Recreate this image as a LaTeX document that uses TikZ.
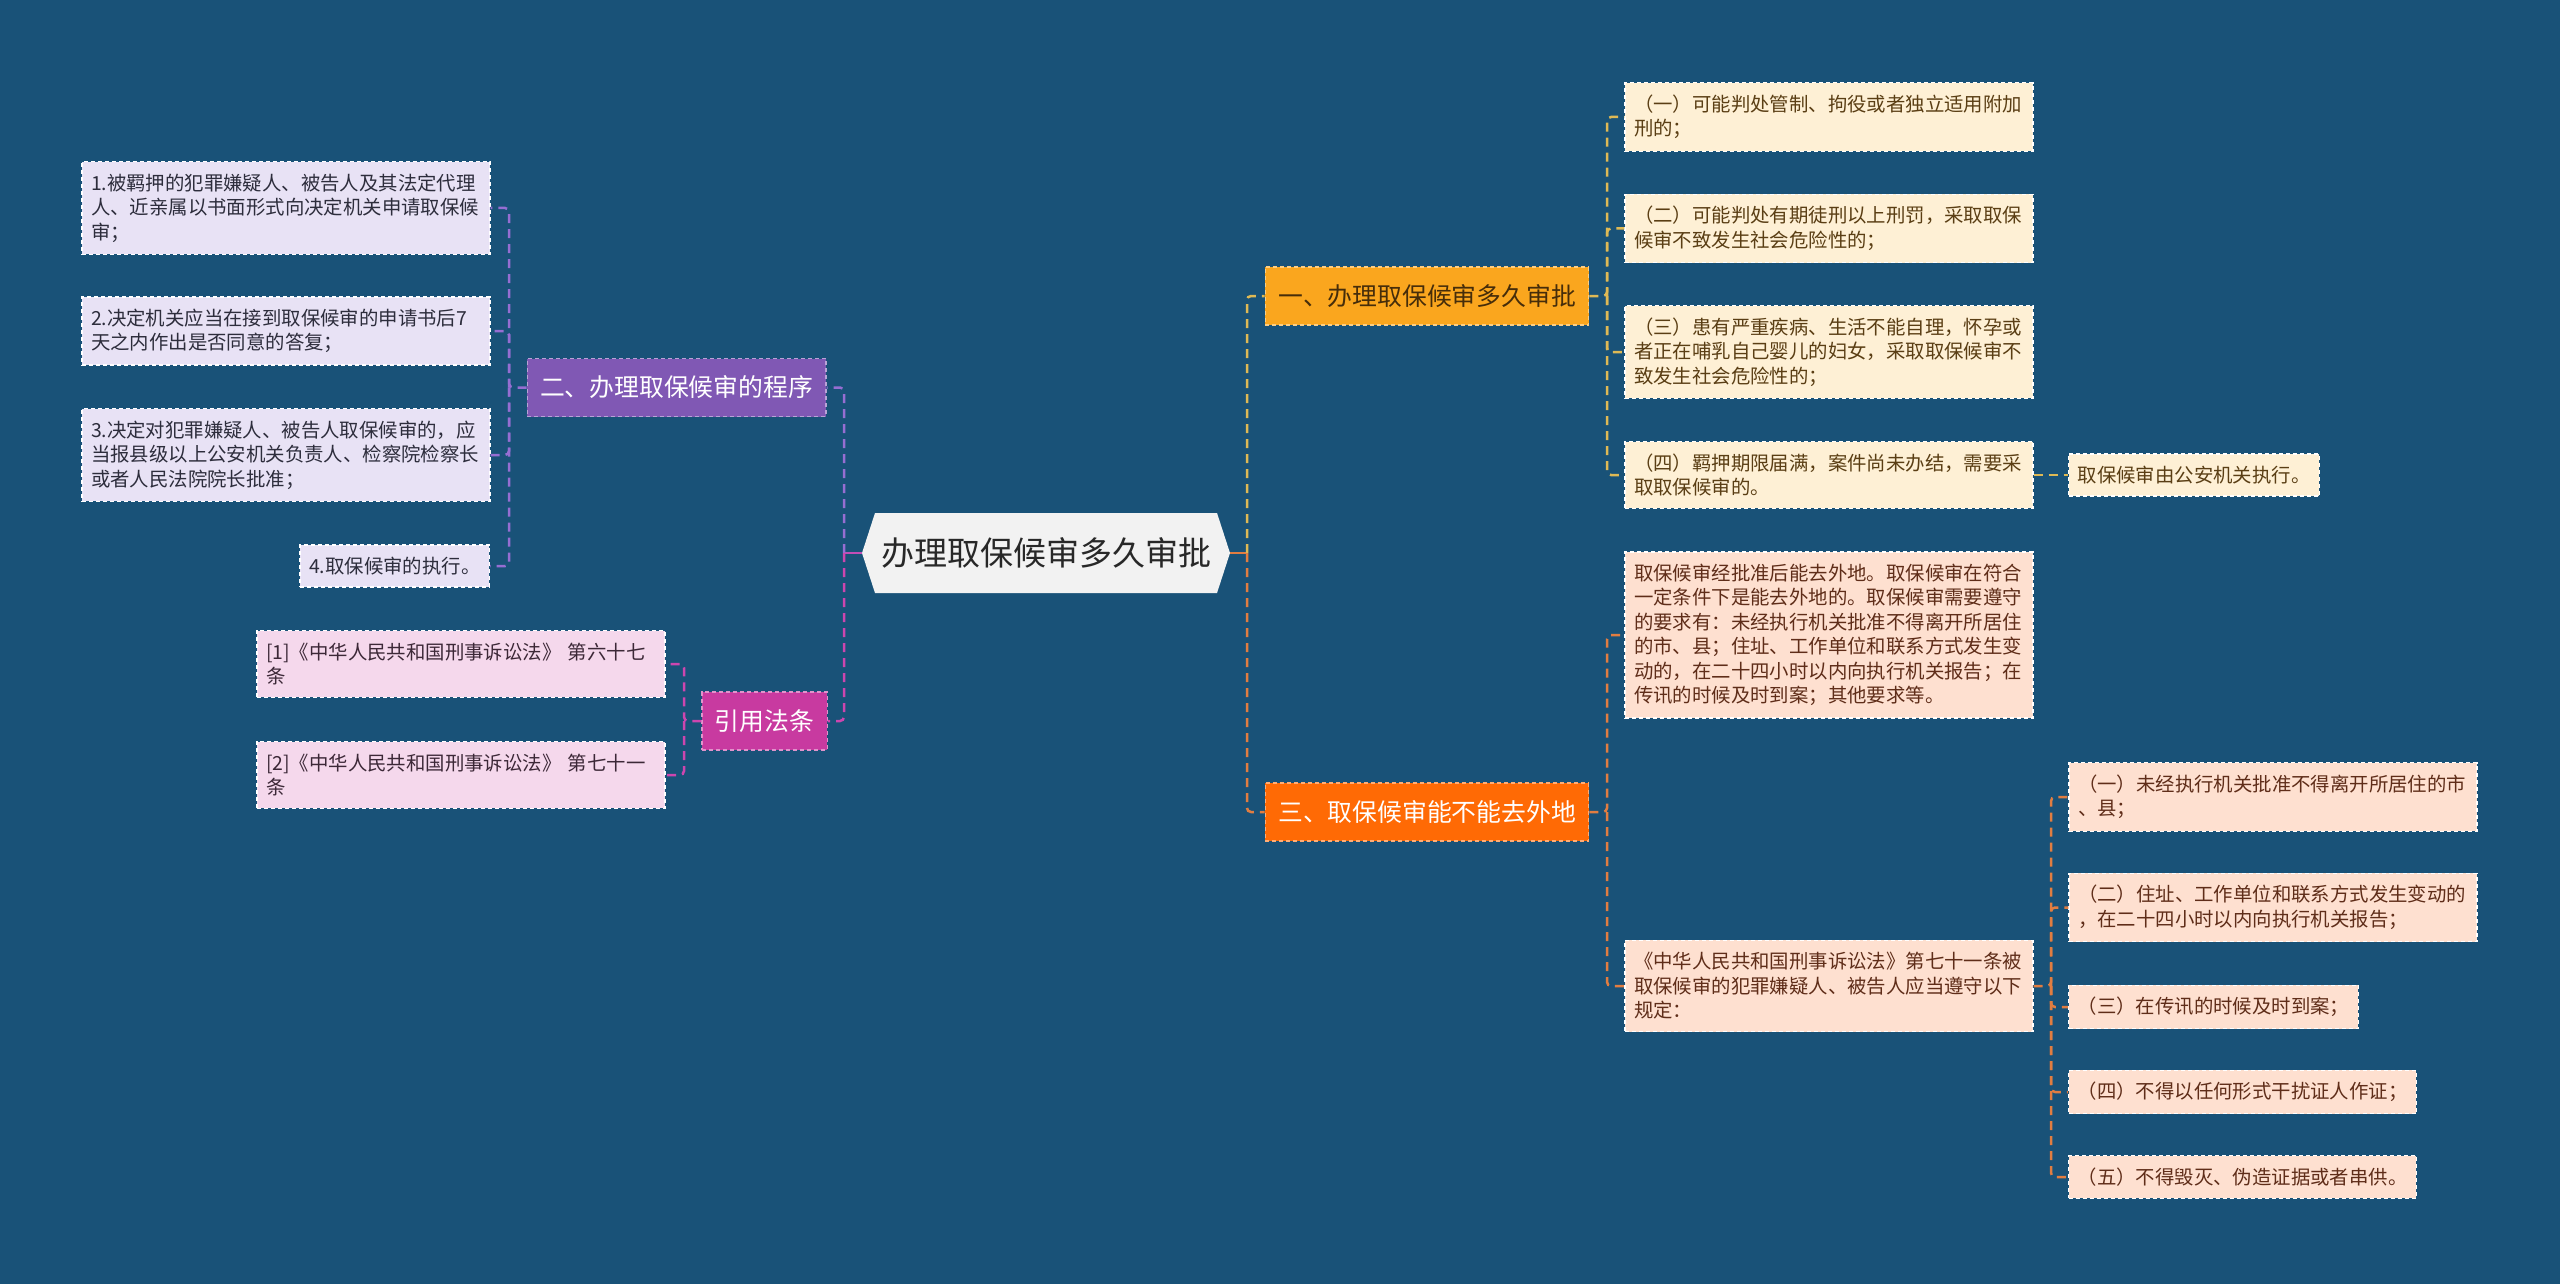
\documentclass[tikz,border=0pt]{standalone}
\usepackage{fontspec}
\newfontfamily\cjk{Noto Sans CJK SC}
\usetikzlibrary{shapes.symbols}

\definecolor{bgblue}{RGB}{25,82,120}
\definecolor{rootgray}{RGB}{242,242,242}
\definecolor{rootink}{RGB}{40,40,40}
\definecolor{amber}{RGB}{250,166,30}
\definecolor{amberink}{RGB}{70,45,10}
\definecolor{flame}{RGB}{255,106,5}
\definecolor{violet}{RGB}{128,88,180}
\definecolor{orchid}{RGB}{200,58,160}
\definecolor{lavender}{RGB}{232,226,245}
\definecolor{blush}{RGB}{245,216,236}
\definecolor{cream}{RGB}{254,240,213}
\definecolor{peach}{RGB}{254,224,208}
\definecolor{lavink}{RGB}{45,45,60}
\definecolor{blushink}{RGB}{60,40,55}
\definecolor{creamink}{RGB}{90,62,20}
\definecolor{peachink}{RGB}{95,45,25}
\definecolor{violetline}{RGB}{150,110,210}
\definecolor{orchidline}{RGB}{205,70,175}
\definecolor{amberline}{RGB}{222,185,85}
\definecolor{flameline}{RGB}{225,125,65}

\tikzset{
  rootbox/.style={shape=signal, signal to=west and east, signal pointer angle=144,
    fill=rootgray, minimum height=80pt, inner xsep=6pt, text=rootink,
    font=\cjk\fontsize{33}{40}\selectfont},
  branch/.style={rectangle, fill=#1, draw=#1!55!white, dash pattern=on 4pt off 3pt,
    line width=1.2pt, minimum height=58pt, inner xsep=13pt,
    font=\cjk\fontsize{24.8}{30}\selectfont},
  leaf/.style={rectangle, fill=#1, draw=white, dash pattern=on 4pt off 3pt,
    line width=1.2pt, inner xsep=9pt, inner ysep=12pt, align=left,
    font=\cjk\fontsize{19.4}{24.5}\selectfont},
  wide/.style={text width=390pt},
  link/.style={line width=2.5pt, dash pattern=on 9pt off 6pt, rounded corners=4pt},
  stub/.style={line width=2.5pt}
}

\begin{document}
\begin{tikzpicture}[x=1pt,y=-1pt]

   \fill[bgblue] (0,0) rectangle (2560,1284);
   \useasboundingbox (0,0) rectangle (2560,1284);

   \node (Root) at (1046,553) [rootbox] {办理取保候审多久审批};

   \node (Approval) at (1427,296) [branch=amber, text=amberink] {一、办理取保候审多久审批};
   \node (Travel) at (1427,812) [branch=flame, text=white] {三、取保候审能不能去外地};
   \node (Procedure) at (676.5,387.5) [branch=violet, text=white] {二、办理取保候审的程序};
   \node (Laws) at (764.5,721) [branch=orchid, text=white] {引用法条};

   \node (StepOne) at (286,208) [leaf=lavender, wide, text=lavink] {1.被羁押的犯罪嫌疑人、被告人及其法定代理\\人、近亲属以书面形式向决定机关申请取保候\\审；};
   \node (StepTwo) at (286,331) [leaf=lavender, wide, text=lavink] {2.决定机关应当在接到取保候审的申请书后7\\天之内作出是否同意的答复；};
   \node (StepThree) at (286,455) [leaf=lavender, wide, text=lavink] {3.决定对犯罪嫌疑人、被告人取保候审的，应\\当报县级以上公安机关负责人、检察院检察长\\或者人民法院院长批准；};
   \node (StepFour) at (490,566) [leaf=lavender, anchor=east, text=lavink] {4.取保候审的执行。};

   \node (LawA) at (461,664) [leaf=blush, wide, text=blushink] {[1]《中华人民共和国刑事诉讼法》 第六十七\\条};
   \node (LawB) at (461,775) [leaf=blush, wide, text=blushink] {[2]《中华人民共和国刑事诉讼法》 第七十一\\条};

   \node (CaseA) at (1829,117) [leaf=cream, wide, text=creamink] {（一）可能判处管制、拘役或者独立适用附加\\刑的；};
   \node (CaseB) at (1829,228.5) [leaf=cream, wide, text=creamink] {（二）可能判处有期徒刑以上刑罚，采取取保\\候审不致发生社会危险性的；};
   \node (CaseC) at (1829,352) [leaf=cream, wide, text=creamink] {（三）患有严重疾病、生活不能自理，怀孕或\\者正在哺乳自己婴儿的妇女，采取取保候审不\\致发生社会危险性的；};
   \node (CaseD) at (1829,475) [leaf=cream, wide, text=creamink] {（四）羁押期限届满，案件尚未办结，需要采\\取取保候审的。};
   \node (CaseExec) at (2068,475) [leaf=cream, anchor=west, text=creamink] {取保候审由公安机关执行。};

   \node (TravelText) at (1829,635) [leaf=peach, wide, text=peachink] {取保候审经批准后能去外地。取保候审在符合\\一定条件下是能去外地的。取保候审需要遵守\\的要求有：未经执行机关批准不得离开所居住\\的市、县；住址、工作单位和联系方式发生变\\动的，在二十四小时以内向执行机关报告；在\\传讯的时候及时到案；其他要求等。};
   \node (TravelRule) at (1829,986) [leaf=peach, wide, text=peachink] {《中华人民共和国刑事诉讼法》第七十一条被\\取保候审的犯罪嫌疑人、被告人应当遵守以下\\规定：};

   \node (RuleA) at (2273,797) [leaf=peach, wide, text=peachink] {（一）未经执行机关批准不得离开所居住的市\\、县；};
   \node (RuleB) at (2273,907.5) [leaf=peach, wide, text=peachink] {（二）住址、工作单位和联系方式发生变动的\\，在二十四小时以内向执行机关报告；};
   \node (RuleC) at (2068,1007) [leaf=peach, anchor=west, text=peachink] {（三）在传讯的时候及时到案；};
   \node (RuleD) at (2068,1092) [leaf=peach, anchor=west, text=peachink] {（四）不得以任何形式干扰证人作证；};
   \node (RuleE) at (2068,1177) [leaf=peach, anchor=west, text=peachink] {（五）不得毁灭、伪造证据或者串供。};

   \coordinate (RootW) at (844,553);
   \coordinate (RootE) at (1247,553);
   \coordinate (ProcJ) at (509,387.5);
   \coordinate (LawsJ) at (684,721);
   \coordinate (ApprJ) at (1607,296);
   \coordinate (TravJ) at (1607,812);
   \coordinate (RuleJ) at (2051,986);

   \draw [stub, draw=orchidline!80!violetline] (Root.west) -- (RootW);
   \draw [stub, draw=flameline] (Root.east) -- (RootE);
   \draw [link, draw=violetline] (RootW) |- (Procedure.east);
   \draw [link, draw=orchidline] (RootW) |- (Laws.east);
   \draw [link, draw=amberline] (RootE) |- (Approval.west);
   \draw [link, draw=flameline] (RootE) |- (Travel.west);

   \draw [link, draw=violetline] (Procedure.west) -- (ProcJ) |- (StepOne.east);
   \draw [link, draw=violetline] (ProcJ) |- (StepTwo.east);
   \draw [link, draw=violetline] (ProcJ) |- (StepThree.east);
   \draw [link, draw=violetline] (ProcJ) |- (StepFour.east);

   \draw [link, draw=orchidline] (Laws.west) -- (LawsJ) |- (LawA.east);
   \draw [link, draw=orchidline] (LawsJ) |- (LawB.east);

   \draw [link, draw=amberline] (Approval.east) -- (ApprJ) |- (CaseA.west);
   \draw [link, draw=amberline] (ApprJ) |- (CaseB.west);
   \draw [link, draw=amberline] (ApprJ) |- (CaseC.west);
   \draw [link, draw=amberline] (ApprJ) |- (CaseD.west);
   \draw [link, draw=amberline] (CaseD.east) -- (CaseExec.west);

   \draw [link, draw=flameline] (Travel.east) -- (TravJ) |- (TravelText.west);
   \draw [link, draw=flameline] (TravJ) |- (TravelRule.west);

   \draw [link, draw=flameline] (TravelRule.east) -- (RuleJ) |- (RuleA.west);
   \draw [link, draw=flameline] (RuleJ) |- (RuleB.west);
   \draw [link, draw=flameline] (RuleJ) |- (RuleC.west);
   \draw [link, draw=flameline] (RuleJ) |- (RuleD.west);
   \draw [link, draw=flameline] (RuleJ) |- (RuleE.west);

\end{tikzpicture}
\end{document}
